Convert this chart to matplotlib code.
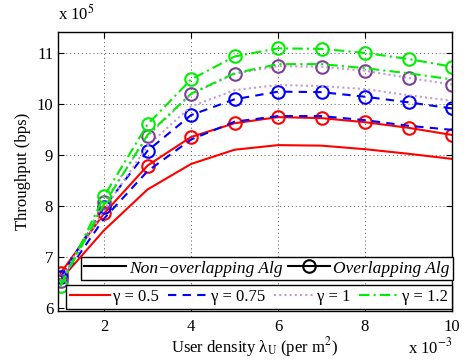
import matplotlib
matplotlib.use("Agg")
import matplotlib.pyplot as plt
from matplotlib.lines import Line2D

plt.rcParams['font.family'] = ['Liberation Serif', 'DejaVu Serif']
plt.rcParams['mathtext.fontset'] = 'stix'

# user density (x 1e-3 per m^2)
density = [1, 2, 3, 4, 5, 6, 7, 8, 9, 10]

# throughput (x 1e5 bps), overlapping algorithm
ovl_05 = [6.68, 7.85, 8.79, 9.35, 9.62, 9.74, 9.72, 9.64, 9.53, 9.39]
ovl_075 = [6.60, 7.97, 9.08, 9.78, 10.09, 10.24, 10.23, 10.14, 10.03, 9.91]
ovl_1 = [6.53, 8.07, 9.37, 10.19, 10.59, 10.74, 10.73, 10.65, 10.51, 10.38]
ovl_12 = [6.42, 8.19, 9.60, 10.48, 10.93, 11.09, 11.08, 11.00, 10.88, 10.73]

# throughput (x 1e5 bps), non-overlapping algorithm
non_05 = [6.55, 7.52, 8.32, 8.82, 9.10, 9.19, 9.18, 9.11, 9.02, 8.92]
non_075 = [6.52, 7.75, 8.68, 9.30, 9.65, 9.76, 9.76, 9.68, 9.57, 9.49]
non_1 = [6.50, 7.92, 9.18, 9.95, 10.27, 10.37, 10.35, 10.29, 10.17, 10.06]
non_12 = [6.45, 8.03, 9.39, 10.20, 10.60, 10.78, 10.78, 10.70, 10.60, 10.48]

gamma_labels = ['\u03b3 = 0.5', '\u03b3 = 0.75', '\u03b3 = 1', '\u03b3 = 1.2']
colors = ['#ff0000', '#0000ff', '#7f3f98', '#00ee00']
line_colors = ['#ff0000', '#0000ff', '#c39bd3', '#00ee00']
styles = ['-', (0, (4, 3)), (0, (1, 1.5)), (0, (5, 2, 1, 2))]

fig = plt.figure(figsize=(4.66, 3.6), dpi=100)
ax = fig.add_axes([0.1245, 0.137, 0.8455, 0.774])

for ov, nv, c, lc, ls in zip([ovl_05, ovl_075, ovl_1, ovl_12],
                             [non_05, non_075, non_1, non_12],
                             colors, line_colors, styles):
    ax.plot(density, nv, color=lc, linestyle=ls, linewidth=1.5)
    ax.plot(density, ov, color=lc, linestyle=ls, linewidth=1.5,
            marker='o', markersize=9, markerfacecolor='none',
            markeredgecolor=c, markeredgewidth=1.5)

ax.set_xlim(0.94, 10)
ax.set_ylim(5.94, 11.41)
ax.set_xticks([2, 4, 6, 8, 10])
ax.set_yticks([6, 7, 8, 9, 10, 11])
ax.tick_params(direction='in', labelsize=12, length=4, top=True, right=True)
ax.tick_params(axis='x', pad=6)
ax.grid(True, linestyle=(0, (1, 3)), color='#555555', linewidth=0.7)
for s in ax.spines.values():
    s.set_linewidth(1.0)

ax.set_ylabel('Throughput (bps)', fontsize=12, labelpad=4)
ax.set_xlabel('User density \u03bb$_{\\mathrm{U}}$ (per m$^2$)', fontsize=12, labelpad=0)
fig.text(0.124, 0.935, r'x 10$^{5}$', fontsize=12, ha='left', va='bottom')
fig.text(0.875, 0.008, r'x 10$^{-3}$', fontsize=12, ha='left', va='bottom')

# algorithm legend
alg_handles = [Line2D([], [], color='black', linewidth=1.5),
               Line2D([], [], color='black', linewidth=1.5, marker='o',
                      markersize=9, markerfacecolor='none', markeredgewidth=1.5)]
leg1 = ax.legend(alg_handles, ['Non\u2212overlapping Alg', 'Overlapping Alg'],
                 loc='lower right', bbox_to_anchor=(1.003, 0.11), ncol=2,
                 prop={'style': 'italic', 'size': 12.5}, frameon=True, fancybox=False,
                 edgecolor='black', framealpha=1, handlelength=2.4,
                 handletextpad=0.2, columnspacing=0.3, borderpad=0.2,
                 borderaxespad=0)
leg1.get_frame().set_linewidth(1.0)
ax.add_artist(leg1)

# gamma legend
g_handles = [Line2D([], [], color=lc, linestyle=ls, linewidth=1.5)
             for lc, ls in zip(line_colors, styles)]
leg2 = ax.legend(g_handles, gamma_labels, loc='lower right',
                 bbox_to_anchor=(1.0, 0.006), ncol=4, prop={'size': 12},
                 frameon=True, fancybox=False, edgecolor='black', framealpha=1,
                 handlelength=2.4, handletextpad=0.2, columnspacing=0.5,
                 borderpad=0.25, borderaxespad=0)
leg2.get_frame().set_linewidth(1.0)

fig.savefig('out.png', dpi=100)
